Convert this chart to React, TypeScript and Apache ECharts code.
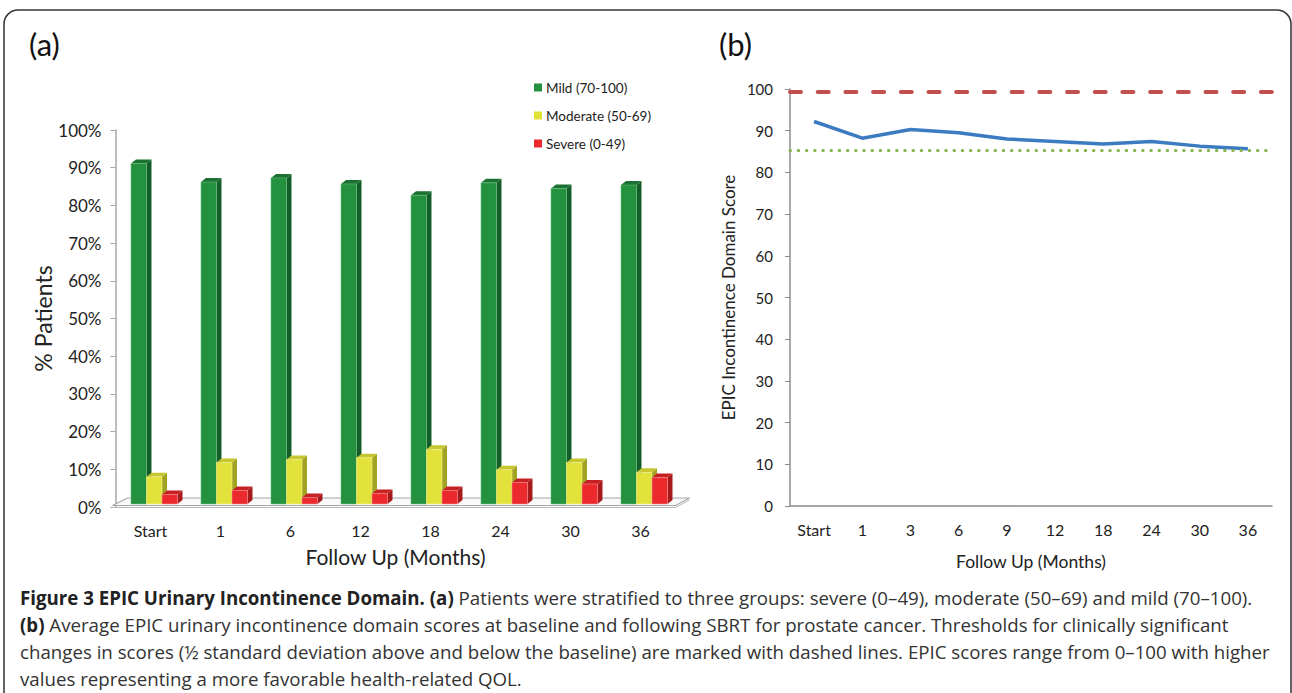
import React, { useEffect, useRef } from "react";
import * as echarts from "echarts";

// ---- Data ----
const barCategories = ["Start", "1", "6", "12", "18", "24", "30", "36"];
const mildPct = [90.3, 85.4, 86.5, 84.9, 81.9, 85.2, 83.7, 84.6];
const moderatePct = [7.2, 11.0, 11.8, 12.3, 14.5, 9.1, 11.0, 8.4];
const severePct = [2.5, 3.6, 1.7, 2.8, 3.6, 5.7, 5.3, 7.0];
const seriesNames = ["Mild (70-100)", "Moderate (50-69)", "Severe (0-49)"];

const lineCategories = ["Start", "1", "3", "6", "9", "12", "18", "24", "30", "36"];
const epicScores = [92.2, 88.2, 90.3, 89.5, 88.0, 87.4, 86.8, 87.4, 86.3, 85.7];
const upperThreshold = 99.3;
const lowerThreshold = 85.3;

const captionLines = [
  "Patients were stratified to three groups: severe (0–49), moderate (50–69) and mild (70–100).",
  "Average EPIC urinary incontinence domain scores at baseline and following SBRT for prostate cancer. Thresholds for clinically significant",
  "changes in scores (½ standard deviation above and below the baseline) are marked with dashed lines. EPIC scores range from 0–100 with higher",
  "values representing a more favorable health-related QOL.",
];

const FONT = "Lato";
const CAP_FONT = '"Open Sans", sans-serif';
const CAP_SIZE = 18.7;

const palettes = [
  { front: "#23913E", side: "#145E29", top: "#1B7131", edge: "#6DBE80" },
  { front: "#E2E23B", side: "#A3A323", top: "#C6C62E", edge: "#F2F29A" },
  { front: "#EC2A2E", side: "#A8191C", top: "#C62024", edge: "#F38A8C" },
];

function make3DSeries(name: string, values: number[], idx: number) {
  const p = palettes[idx];
  return {
    type: "custom",
    name,
    xAxisIndex: 0,
    yAxisIndex: 0,
    z: 3,
    itemStyle: { color: p.front },
    data: values.map((v, i) => [i, v]),
    renderItem: (params: any, api: any) => {
      const cat = api.value(0);
      const val = api.value(1);
      const base = api.coord([cat, 0]);
      const top = api.coord([cat, val]);
      const band = api.size([1, 0])[0];
      const bw = band * 0.2214;
      const x0 = base[0] - band * 0.2786 + idx * bw;
      const yb = base[1] - 3;
      const yt = top[1] - 3;
      const dx = 5;
      const dy = -4;
      return {
        type: "group",
        children: [
          {
            type: "polygon",
            shape: { points: [[x0 + bw, yt], [x0 + bw + dx, yt + dy], [x0 + bw + dx, yb + dy], [x0 + bw, yb]] },
            style: { fill: p.side },
          },
          {
            type: "polygon",
            shape: { points: [[x0, yt], [x0 + dx, yt + dy], [x0 + bw + dx, yt + dy], [x0 + bw, yt]] },
            style: { fill: p.top },
          },
          {
            type: "rect",
            shape: { x: x0, y: yt, width: bw, height: yb - yt },
            style: { fill: p.front, stroke: p.edge, lineWidth: 0.6 },
          },
        ],
      };
    },
  };
}

const floorSeries = {
  type: "custom",
  name: "floor",
  xAxisIndex: 0,
  yAxisIndex: 0,
  silent: true,
  z: 1,
  data: [[0, 0]],
  renderItem: (params: any, api: any) => {
    const cs = params.coordSys;
    const y0 = cs.y + cs.height;
    const xl = cs.x;
    const xr = cs.x + cs.width;
    return {
      type: "group",
      children: [
        {
          type: "polygon",
          shape: { points: [[xl - 3, y0 - 1.5], [xl + 12, y0 - 9], [xr + 14, y0 - 9], [xr, y0 - 1.5]] },
          style: { fill: "#FAFAFA", stroke: "#A6A6A6", lineWidth: 1.2 },
        },
        {
          type: "polyline",
          shape: { points: [[xl - 3, y0 + 0.5], [xr, y0 + 0.5], [xr + 14, y0 - 7]] },
          style: { fill: "none", stroke: "#B8B8B8", lineWidth: 1 },
        },
      ],
    };
  },
};

export default function App() {
  const ref = useRef<HTMLDivElement>(null);
  useEffect(() => {
    if (!ref.current) return;
    const chart = echarts.init(ref.current, null, { renderer: "svg" });
    const option: any = {
      animation: false,
      backgroundColor: "#ffffff",
      textStyle: { fontFamily: FONT },
      legend: {
        data: seriesNames,
        orient: "vertical",
        left: 534,
        top: 80,
        padding: 0,
        itemWidth: 8,
        itemHeight: 8,
        itemGap: 13,
        icon: "rect",
        selectedMode: false,
        textStyle: { fontSize: 13.5, lineHeight: 15, color: "#222", fontFamily: FONT, padding: [0, 0, 0, -1] },
      },
      grid: [
        { left: 115.5, top: 130, width: 560, height: 377 },
        { left: 790, top: 89, width: 482, height: 417 },
      ],
      xAxis: [
        {
          gridIndex: 0,
          type: "category",
          data: barCategories,
          axisLine: { show: false },
          axisTick: { show: false },
          axisLabel: { fontSize: 16, color: "#222", margin: 15 },
          name: "Follow Up (Months)",
          nameLocation: "middle",
          nameGap: 39,
          nameTextStyle: { fontSize: 21, color: "#222" },
        },
        {
          gridIndex: 1,
          type: "category",
          data: lineCategories,
          axisLine: { show: true, lineStyle: { color: "#8C8C8C", width: 1.5 } },
          axisTick: { show: false },
          axisLabel: { fontSize: 16, color: "#222", margin: 15 },
          name: "Follow Up (Months)",
          nameLocation: "middle",
          nameGap: 46,
          nameTextStyle: { fontSize: 17.5, color: "#222" },
        },
      ],
      yAxis: [
        {
          gridIndex: 0,
          type: "value",
          min: 0,
          max: 100,
          interval: 10,
          splitLine: { show: false },
          axisLine: { show: true, lineStyle: { color: "#A6A6A6", width: 1.5 } },
          axisTick: { show: true, inside: false, length: 5, lineStyle: { color: "#A6A6A6" } },
          axisLabel: { fontSize: 17, color: "#222", margin: 14, formatter: "{value}%" },
          name: "% Patients",
          nameLocation: "middle",
          nameGap: 61,
          nameTextStyle: { fontSize: 23, color: "#222" },
        },
        {
          gridIndex: 1,
          type: "value",
          min: 0,
          max: 100,
          interval: 10,
          splitLine: { show: false },
          axisLine: { show: true, lineStyle: { color: "#8C8C8C", width: 1.5 } },
          axisTick: { show: true, inside: false, length: 5, lineStyle: { color: "#8C8C8C" } },
          axisLabel: { fontSize: 15, color: "#222", margin: 17 },
          name: "EPIC Incontinence Domain Score",
          nameLocation: "middle",
          nameGap: 53,
          nameTextStyle: { fontSize: 17, color: "#222" },
        },
      ],
      series: [
        floorSeries,
        make3DSeries(seriesNames[0], mildPct, 0),
        make3DSeries(seriesNames[1], moderatePct, 1),
        make3DSeries(seriesNames[2], severePct, 2),
        {
          type: "line",
          name: "EPIC score",
          xAxisIndex: 1,
          yAxisIndex: 1,
          data: epicScores,
          symbol: "none",
          lineStyle: { color: "#3C7BC0", width: 3.5 },
          z: 4,
          markLine: {
            silent: true,
            symbol: "none",
            label: { show: false },
            data: [
              {
                yAxis: upperThreshold,
                lineStyle: { color: "#C0504D", width: 4, type: [11, 16.7], cap: "round" },
              },
              {
                yAxis: lowerThreshold,
                lineStyle: { color: "#86B34E", width: 3, type: [0.5, 7.7], cap: "round" },
              },
            ],
          },
        },
      ],
      graphic: [
        {
          type: "rect",
          silent: true,
          shape: { x: 4, y: 10, width: 1287, height: 720, r: 14 },
          style: { fill: "none", stroke: "#333", lineWidth: 1.5 },
        },
        {
          type: "text",
          x: 29,
          y: 28,
          style: { text: "(a)", fontSize: 31, fontFamily: FONT, fill: "#111" },
        },
        {
          type: "text",
          x: 719,
          y: 28,
          style: { text: "(b)", fontSize: 31, fontFamily: FONT, fill: "#111" },
        },
        {
          type: "text",
          x: 20,
          y: 597,
          style: {
            text: "{b|Figure 3 EPIC Urinary Incontinence Domain. (a)} " + captionLines[0],
            fontSize: CAP_SIZE,
            fontFamily: CAP_FONT,
            fill: "#333",
            verticalAlign: "middle",
            rich: { b: { fontWeight: "bold", fontSize: CAP_SIZE, fontFamily: CAP_FONT, fill: "#222" } },
          },
        },
        {
          type: "text",
          x: 20,
          y: 624,
          style: {
            text: "{b|(b)} " + captionLines[1],
            fontSize: CAP_SIZE,
            fontFamily: CAP_FONT,
            fill: "#333",
            verticalAlign: "middle",
            rich: { b: { fontWeight: "bold", fontSize: CAP_SIZE, fontFamily: CAP_FONT, fill: "#222" } },
          },
        },
        {
          type: "text",
          x: 20,
          y: 651,
          style: { text: captionLines[2], fontSize: CAP_SIZE, fontFamily: CAP_FONT, fill: "#333", verticalAlign: "middle" },
        },
        {
          type: "text",
          x: 20,
          y: 678,
          style: { text: captionLines[3], fontSize: CAP_SIZE, fontFamily: CAP_FONT, fill: "#333", verticalAlign: "middle" },
        },
      ],
    };
    chart.setOption(option);
    return () => chart.dispose();
  }, []);
  return (
    <div
      ref={ref}
      style={{ position: "fixed", left: 0, top: 0, width: 1292, height: 693, background: "#fff" }}
    />
  );
}
